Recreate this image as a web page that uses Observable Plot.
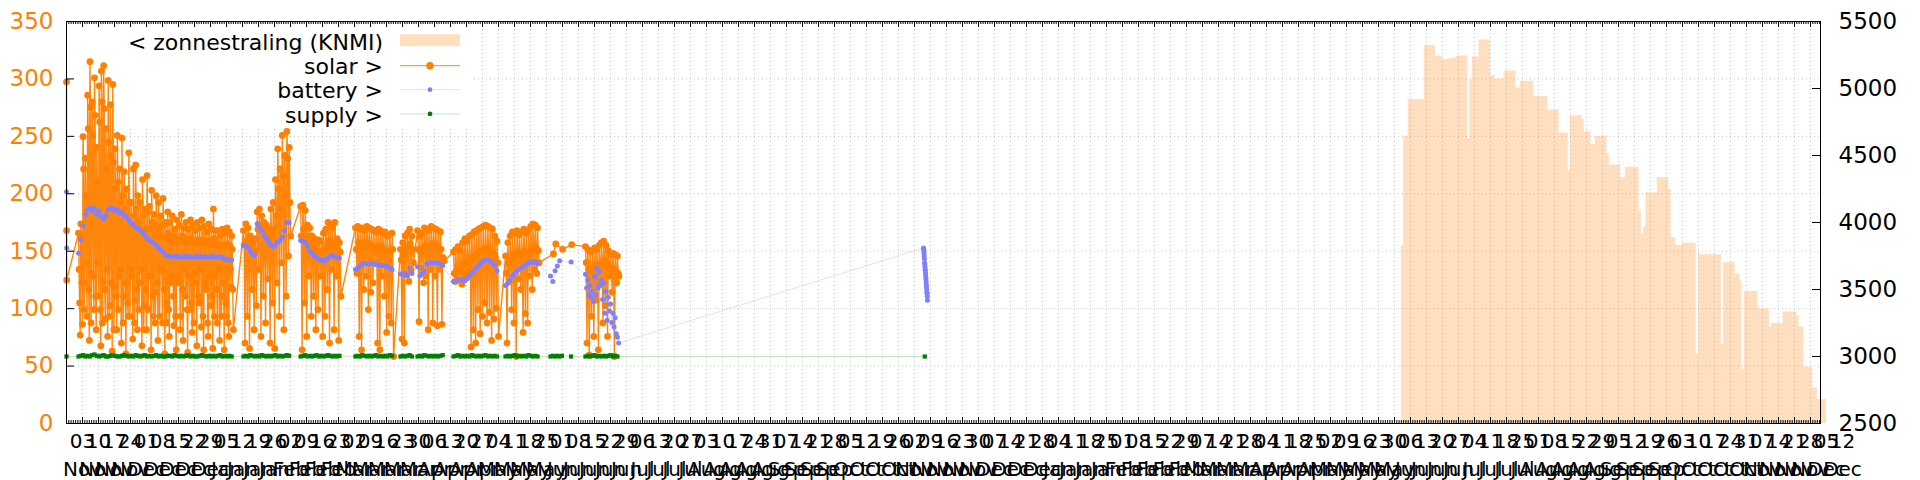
<!DOCTYPE html>
<html><head><meta charset="utf-8">
<script src="https://cdn.jsdelivr.net/npm/d3@7"></script>
<script src="https://cdn.jsdelivr.net/npm/@observablehq/plot@0.6"></script>
<style>body{margin:0;background:#fff} svg{display:block}</style>
</head><body><div id="chart"></div>
<script>
// ---- sensor readings (mV, right axis). Each block: start time, interval in hours, readings ----
const solarBlocks = [
  {start: "2018-10-27T00:00Z", stepH: 1, v: [5050, 3940, 3570]},
  {start: "2018-11-01T06:00Z", stepH: 6, v: [
    3920,3650,3400,3160, 3990,3880,3550,3240, 4640,4400,3350,3550, 4480,4200,3700,3300, 4950,4700,3500,3120, 5200,4860,3250,3620,
    4900,4650,3600,3350, 5080,4800,3450,3200, 4560,4300,3700,3450, 5020,4750,3350,3080, 5130,4900,3250,3560, 5170,4850,3500,3280,
    4700,4400,3650,3150, 5060,4600,3300,3380, 4880,4500,3550,3040, 5030,4450,3200,3520, 4550,4250,3450,3200, 4650,4300,3350,3600,
    4400,4150,3650,3100, 4630,4200,3250,3450, 4380,4100,3550,3020, 4250,4050,3400,3300, 4520,4150,3300,3650, 4150,3980,3600,3130,
    4400,4050,3250,3420, 4430,4100,3500,3200, 4200,4000,3350,3550, 4150,3950,3650,3080, 4320,4050,3200,3380, 4100,3950,3500,3200,
    4350,4080,3350,3600, 4120,3950,3600,3050, 4240,4000,3450,3300, 4060,3900,3250,3480, 4200,3980,3550,3120, 4150,3950,3300,3650,
    4050,3900,3650,3250, 4180,3980,3500,3020, 4000,3880,3250,3400, 4080,3920,3350,3150, 4000,3860,3600,3550, 4050,3900,3450,3230,
    3950,3850,3300,3050, 4020,3880,3550,3600, 3980,3860,3200,3300, 4060,3900,3500,3120, 3960,3850,3650,3450, 4000,3880,3350,3030,
    3950,3850,3600,3350, 4020,3880,3400,3180, 3980,3860,3250,3620, 3940,3840,3550,3080, 4000,3870,3450,3400, 3960,3850,3650,3220,
    4020,3870,3300,3050, 3970,3850,3550,3500, 3930,3840,3250,3150, 3990,3860,3600,3380, 3950,3840,3450,3060, 4100,3880,3300,3600,
    3940,3840,3500,3250, 3940,3840,3650,3120, 3900,3820,3300,3450, 3950,3830,3550,3050, 3920,3820,3400,3300, 3960,3840,3250,3150,
    3930,3820,3650,3520, 3900,3800,3500,3200]},
  {start: "2019-01-12T10:00Z", stepH: 8, v: [
    3940,3830,3100, 3990,3860,3300, 3960,3850,3060, 3900,3820,3500, 3850,3780,3200, 3880,3790,3380, 4080,3950,3650, 4100,3980,3150,
    4050,3960,3450, 4000,3930,3250, 3980,3900,3580, 3950,3880,3100, 4100,3900,3400, 4150,3950,3060, 4320,4050,3550, 4550,4250,3300,
    4400,4100,3700, 4650,4350,3200, 4500,4200,3450, 4680,4480,3750, 4560,4150,3900]},
  {start: "2019-02-06T10:00Z", stepH: 8, v: [
    4120,3900,3050, 4130,3950,3400, 4090,3900,3150, 3980,3880,3600, 3960,3850,3300, 3900,3820,3450, 3880,3800,3200, 3850,3780,3350,
    3870,3790,3600, 3860,3780,3150, 3920,3800,3300, 3950,3820,3500, 4000,3860,3100, 3990,3850,3650, 3960,3820,3200, 4000,3840,3600,
    3880,3800,3120, 3850,3780,3450]},
  {start: "2019-03-02T10:00Z", stepH: 8, v: [
    3960,3800,3620, 3970,3850,3150, 3950,3830,3050, 3960,3840,3500, 3940,3820,3600, 3970,3850,3350, 3960,3830,3480, 3950,3820,3550,
    3940,3800,3700, 3930,3800,3100, 3950,3820,3050, 3940,3810,3600, 3920,3800,3450, 3930,3790,3180, 3900,3780,3300, 3910,3790,3250,
    3920,3800,3000]},
  {start: "2019-03-22T03:00Z", stepH: 8, v: [
    3800,3720,3130, 3850,3760,3100, 3900,3800,3620, 3920,3820,3560, 3950,3840,3650, 3900,3800,3700]},
  {start: "2019-03-29T14:00Z", stepH: 8, v: [
    3940,3800,3260, 3900,3780,3660, 3920,3790,3550, 3960,3820,3600, 3950,3830,3200, 3940,3820,3650, 3970,3840,3250, 3960,3830,3600,
    3950,3820,3230, 3940,3810,3650, 3930,3800,3240, 3740,3730,3715]},
  {start: "2019-04-14T08:00Z", stepH: 8, v: [
    3780,3620,3560, 3800,3640,3580, 3820,3650,3570, 3790,3630,3540, 3850,3680,3600, 3880,3700,3610, 3860,3700,3640, 3900,3720,3070,
    3910,3740,3200, 3930,3750,3100, 3940,3770,3350, 3950,3780,3170, 3960,3790,3300, 3970,3800,3400, 3980,3810,3250, 3970,3800,3330,
    3960,3780,3120, 3950,3770,3280, 3900,3740,3360, 3860,3700,3150]},
  {start: "2019-05-07T02:00Z", stepH: 8, v: [
    3750,3620,3100, 3850,3700,3560, 3900,3720,3350, 3930,3760,3250, 3920,3750,3000, 3940,3780,3580, 3910,3760,3500, 3930,3770,3180,
    3950,3790,3320, 3920,3770,3250, 3940,3780,3600, 3970,3800,3500, 3990,3820,3650, 3980,3810,3620, 3960,3790,3700]},
  {start: "2019-05-28T01:00Z", stepH: 24, v: [3765, 3840, null, null, 3800, null, null, null, 3835]},
  {start: "2019-06-11T01:00Z", stepH: 8, v: [
    3820,3700,3100, 3800,3650,3010, 3780,3640,3300, 3790,3660,3150, 3810,3680,3420, 3800,3670,3050, 3830,3690,3550, 3850,3700,3250,
    3860,3720,3380, 3830,3690,3150, 3790,3660,3600, 3760,3650,3480, 3770,3650,3000, 3760,3640,3550, 3750,3620,3600]}
];

const batteryBlocks = [
  {start: "2018-10-27T00:00Z", stepH: 1, v: [4230, 3810]},
  {start: "2018-11-01T06:00Z", stepH: 24, v: [
    3770,3870,3975,4060,4095,4110,4085,4105,4060,4085, 4045,4025,4050,4095,4110,4105,4085,4095,4070,4075,
    4050,4035,4015,4000,3985,3965,3955,3940,3930,3905, 3880,3870,3855,3845,3830,3810,3795,3775,3760,3750,
    3750,3745,3745,3750,3745,3740,3745,3750,3745,3745, 3740,3745,3750,3745,3740,3745,3745,3740,3745,3750,
    3745,3740,3745,3740,3725,3725,3720,3720]},
  {start: "2019-01-12T10:00Z", stepH: 24, v: [
    3830,3825,3815,3785,3760,3755,3990,3965,3940,3905,3880,3855,3830,3820,3830,3855,3865,3890,3940,4000,4000]},
  {start: "2019-02-06T10:00Z", stepH: 24, v: [
    3865,3860,3850,3820,3785,3770,3750,3740,3725,3720,3715,3720,3735,3750,3755,3745,3740,3735]},
  {start: "2019-03-02T10:00Z", stepH: 24, v: [
    3650,3660,3680,3690,3695,3690,3690,3695,3690,3685,3685,3680,3680,3675,3670,3660,3650]},
  {start: "2019-03-22T03:00Z", stepH: 24, v: [3615,3610,3620,3600,3660,3620]},
  {start: "2019-03-29T14:00Z", stepH: 24, v: [3670,3600,3620,3640,3690,3695,3700,3700,3700,3695,3690,3680]},
  {start: "2019-04-14T08:00Z", stepH: 24, v: [
    3560,3560,3570,3575,3570,3565,3580,3600,3620,3640,3660,3680,3700,3715,3720,3720,3710,3700,3680,3640]},
  {start: "2019-05-07T02:00Z", stepH: 24, v: [
    3530,3545,3570,3600,3620,3640,3650,3665,3675,3685,3700,3705,3700,3710,3690]},
  {start: "2019-05-26T18:00Z", stepH: 24, v: [3600, 3560, 3640, 3675, 3715, null, null, null, null, 3705]},
  {start: "2019-06-11T01:00Z", stepH: 12, v: [
    3614,3511,3571,3460,3530,3443,3486,3410,3597,3460, 3657,3511,3631,3530,3571,3426,3546,3323,3486,3271,
    3443,3340,3391,3254,3323,3220,3289,3169,3143,3100]},
  {start: "2019-11-05T22:00Z", stepH: 2, v: [
    3810,3800,3790,3770,3750,3730,3700,3690,3670,3650,3640,3620,3600,3580,3560,3540,3520,3500,3480,3470,3450,3420]}
];

const supplyBlocks = [
  {start: "2018-10-27T00:00Z", stepH: 24, v: [3000]},
  {start: "2018-11-01T06:00Z", stepH: 24, v: [
    3000,3005,3010,3000,3005,3000,3010,3015,3005,3000, 3005,3010,3000,3000,3005,3010,3005,3000,3000,3005,
    3010,3005,3000,3005,3000,3010,3005,3000,3005,3010, 3000,3005,3000,3005,3010,3000,3005,3000,3000,3005,
    3005,3000,3010,3005,3000,3005,3000,3005,3010,3000, 3005,3000,3000,3005,3010,3005,3000,3005,3000,3005,
    3000,3005,3010,3000,3005,3000,3005,3000]},
  {start: "2019-01-12T10:00Z", stepH: 24, v: [
    3000,3005,3000,3010,3005,3000,3005,3000,3010,3005,3000,3005,3000,3005,3010,3000,3005,3000,3005,3010,3005]},
  {start: "2019-02-06T10:00Z", stepH: 24, v: [
    3000,3005,3010,3000,3005,3000,3005,3010,3000,3005,3000,3005,3010,3005,3000,3005,3000,3005]},
  {start: "2019-03-02T10:00Z", stepH: 24, v: [
    3000,3005,3000,3010,3005,3000,3005,3000,3005,3010,3000,3005,3000,3005,3000,3010,3005]},
  {start: "2019-03-22T03:00Z", stepH: 24, v: [3000,3005,3000,3005,3010,3000]},
  {start: "2019-03-29T14:00Z", stepH: 24, v: [3000,3005,3000,3010,3005,3000,3005,3000,3005,3000,3005,3010]},
  {start: "2019-04-14T08:00Z", stepH: 24, v: [
    3000,3005,3010,3000,3005,3000,3005,3000,3010,3005,3000,3005,3000,3005,3010,3000,3005,3000,3005,3000]},
  {start: "2019-05-07T02:00Z", stepH: 24, v: [
    3000,3005,3000,3005,3010,3000,3005,3000,3005,3000,3010,3005,3000,3005,3000]},
  {start: "2019-05-26T18:00Z", stepH: 24, v: [3000, 3005, 3000, 3005, 3000, 3005, null, null, null, 3000]},
  {start: "2019-06-11T01:00Z", stepH: 24, v: [
    3000,3005,3000,3005,3010,3000,3005,3000,3005,3000,3005,3010,3000,3005,3000]},
  {start: "2019-11-06T12:00Z", stepH: 24, v: [3000]}
];

// ---- KNMI zonnestraling (left axis), value holds from each date until the next ----
const sunDates = ["2020-06-02","2020-06-03","2020-06-05","2020-06-12","2020-06-17","2020-06-20","2020-06-23","2020-06-26",
  "2020-07-01","2020-07-02","2020-07-03","2020-07-06","2020-07-11","2020-07-13","2020-07-17","2020-07-22","2020-07-24","2020-07-30",
  "2020-08-05","2020-08-10","2020-08-14","2020-08-15","2020-08-20","2020-08-21","2020-08-24","2020-08-26","2020-08-31",
  "2020-09-01","2020-09-06","2020-09-08","2020-09-14","2020-09-15","2020-09-16","2020-09-17","2020-09-22","2020-09-27","2020-09-28","2020-09-30",
  "2020-10-03","2020-10-09","2020-10-10","2020-10-20","2020-10-21","2020-10-26","2020-10-28","2020-10-29","2020-10-30",
  "2020-11-05","2020-11-10","2020-11-11","2020-11-16","2020-11-22","2020-11-23","2020-11-25","2020-11-29","2020-12-01","2020-12-05"];
const sunValues = [155,250,282,329,320,317,318,320,
  248,299,319,334,303,300,307,292,298,285,
  273,253,220,268,265,254,243,250,235,
  225,214,223,185,165,171,201,214,204,162,155,
  157,60,147,69,140,130,124,47,115,
  100,84,87,97,94,84,49,31,21,21];

// ---- axes ----
const leftTicks = [0, 50, 100, 150, 200, 250, 300, 350];
const rightTicks = [2500, 3000, 3500, 4000, 4500, 5000, 5500];
const xStart = new Date("2018-10-27T00:00Z");
const xEnd = new Date("2020-12-02T09:00Z");
const labelWeeks = d3.utcSaturday.range(new Date("2018-11-03T00:00Z"), new Date("2020-12-13T00:00Z"));

const legendLabels = ["< zonnestraling (KNMI)", "solar >", "battery >", "supply >"];

// ---- build ----
const ORANGE = "#ff8000", BLUE = "#8080ff", GREEN = "#008000";
function expand(blocks) {
  const out = [];
  for (const b of blocks) {
    const t0 = new Date(b.start).getTime();
    b.v.forEach((v, i) => { if (v != null) out.push({t: new Date(t0 + i * b.stepH * 3600e3), v}); });
  }
  return out;
}
const toLeft = mv => (mv - 2500) * 350 / 3000;
const solar = expand(solarBlocks), battery = expand(batteryBlocks), supply = expand(supplyBlocks);
const sun = sunDates.map((d, i) => ({t: new Date(d + "T00:00Z"), v: sunValues[i]}));

const W = 1920, H = 480, ML = 66, MR = 100, MT = 21, MB = 57;
const PW = W - ML - MR, PH = H - MT - MB;
const weeksIn = labelWeeks.filter(d => d >= xStart && d <= xEnd);
const daysIn = d3.utcDay.range(xStart, xEnd);
const fmt = d3.utcFormat("%d\n%b");
const GRID = "#c4c4c4";

const chart = Plot.plot({
  width: W, height: H,
  marginLeft: ML, marginRight: MR, marginTop: MT, marginBottom: MB,
  style: {fontFamily: "DejaVu Sans", fontSize: "18px", background: "white", overflow: "visible"},
  x: {type: "utc", domain: [xStart, xEnd], axis: null},
  y: {domain: [0, 350], axis: null},
  marks: [
    Plot.ruleX(weeksIn, {x: d => d, stroke: GRID, strokeDasharray: "1,3"}),
    Plot.ruleY(leftTicks.slice(1, -1), {y: d => d, stroke: GRID, strokeDasharray: "1,3"}),
    Plot.areaY(sun, {x: "t", y: "v", curve: "step-after", fill: ORANGE, fillOpacity: 0.25}),
    Plot.frame({fill: "white", stroke: null, insetRight: PW - 407, insetBottom: PH - 107}),
    Plot.line(solar, {x: "t", y: d => toLeft(d.v), stroke: ORANGE, strokeWidth: 1.4, strokeOpacity: 0.95}),
    Plot.dot(solar, {x: "t", y: d => toLeft(d.v), r: 3.4, fill: ORANGE}),
    Plot.line(battery, {x: "t", y: d => toLeft(d.v), stroke: BLUE, strokeWidth: 1, strokeOpacity: 0.25}),
    Plot.dot(battery, {x: "t", y: d => toLeft(d.v), r: 2.5, fill: BLUE}),
    Plot.line(supply, {x: "t", y: d => toLeft(d.v), stroke: GREEN, strokeWidth: 1, strokeOpacity: 0.22}),
    Plot.dot(supply, {x: "t", y: d => toLeft(d.v), r: 2.4, fill: GREEN, symbol: "square"}),
    // tick marks (inward, gnuplot style)
    Plot.tickX(weeksIn, {x: d => d, insetTop: PH - 6, stroke: "black"}),
    Plot.tickX(weeksIn, {x: d => d, insetBottom: PH - 6, stroke: "black"}),
    Plot.tickX(daysIn, {x: d => d, insetTop: PH - 3, stroke: "black"}),
    Plot.tickX(daysIn, {x: d => d, insetBottom: PH - 3, stroke: "black"}),
    Plot.tickY(leftTicks, {y: d => d, insetRight: PW - 8, stroke: "black"}),
    Plot.tickY(rightTicks.map(toLeft), {y: d => d, insetLeft: PW - 8, stroke: "black"}),
    // labels
    Plot.axisX({ticks: labelWeeks, tickFormat: fmt, tickSize: 0, tickPadding: 5, fontSize: 20, lineHeight: 1.38, fill: "black", label: null}),
    Plot.axisY({anchor: "left", ticks: leftTicks, tickSize: 0, tickPadding: 13, fontSize: 23, fill: ORANGE, color: ORANGE, label: null}),
    Plot.axisY({anchor: "right", ticks: rightTicks.map(toLeft), tickFormat: v => String(Math.round(v * 3000 / 350 + 2500)), tickSize: 0, tickPadding: 18, fontSize: 23, fill: "black", label: null}),
    Plot.frame({stroke: "black"})
  ]
});
document.getElementById("chart").appendChild(chart);

// legend (drawn inside the plot frame, top-left)
const lg = d3.select(chart).append("g").attr("font-family", "DejaVu Sans").attr("font-size", 22);
const rowY = [42.7, 66.7, 90.7, 114.9];
const textX = 383, s0 = 400, s1 = 460, sc = 430;
legendLabels.forEach((t, i) => {
  lg.append("text").attr("x", textX).attr("y", rowY[i]).attr("dy", "0.35em").attr("text-anchor", "end").attr("fill", "black").text(t);
});
lg.append("rect").attr("x", s0).attr("y", rowY[0] - 8.5).attr("width", s1 - s0).attr("height", 12).attr("fill", ORANGE).attr("fill-opacity", 0.25);
[[ORANGE, 0.95, 3.7], [BLUE, 0.25, 2.4], [GREEN, 0.22, 2.4]].forEach(([c, o, r], k) => {
  const y = rowY[k + 1] - 1;
  lg.append("line").attr("x1", s0).attr("x2", s1).attr("y1", y).attr("y2", y).attr("stroke", c).attr("stroke-opacity", o);
  lg.append("circle").attr("cx", sc).attr("cy", y).attr("r", r).attr("fill", c);
});
</script></body></html>
